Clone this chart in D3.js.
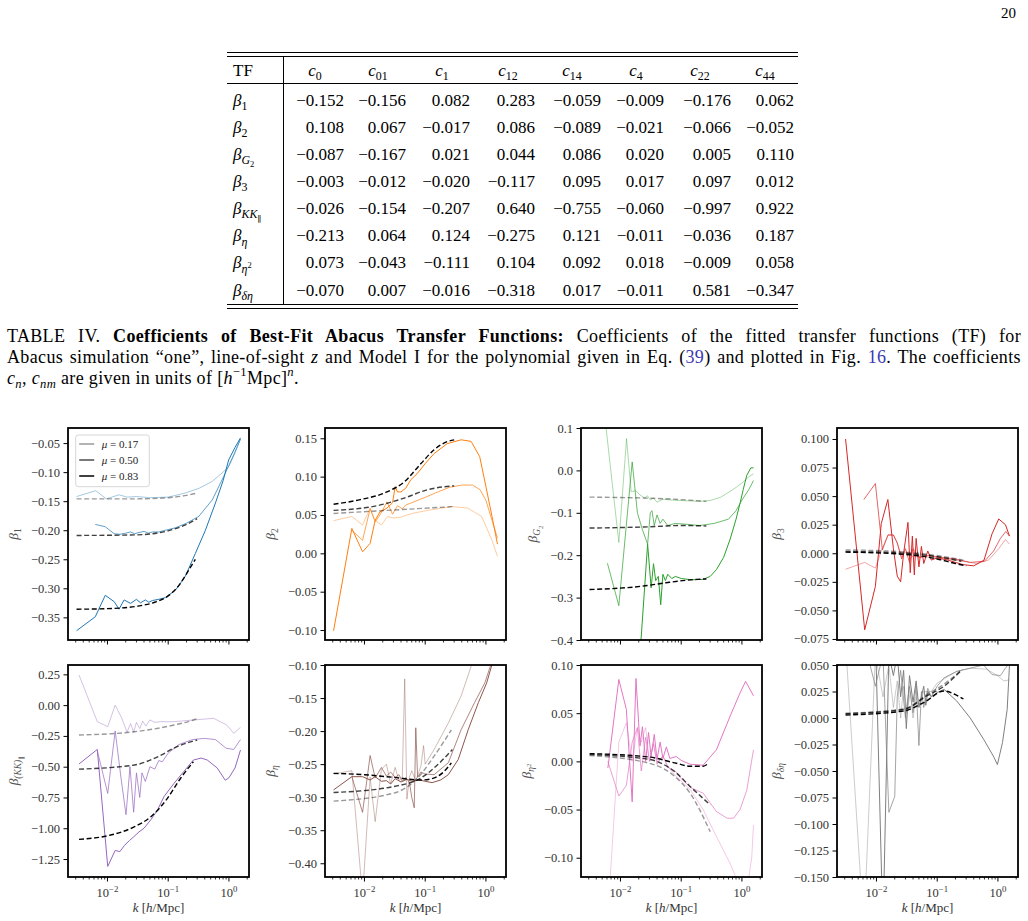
<!DOCTYPE html>
<html>
<head>
<meta charset="utf-8">
<script src="https://cdn.jsdelivr.net/npm/d3@7"></script>
<style>
  body { margin: 0; background: #fff; }
  svg text { font-family: "Liberation Serif", "Times New Roman", "DejaVu Serif", serif; }
</style>
</head>
<body>
<script>
// ---------- table ----------
var tableCols = ['0', '01', '1', '12', '14', '4', '22', '44'];
var tableVals = [
  [-0.152, -0.156,  0.082,  0.283, -0.059, -0.009, -0.176,  0.062],
  [ 0.108,  0.067, -0.017,  0.086, -0.089, -0.021, -0.066, -0.052],
  [-0.087, -0.167,  0.021,  0.044,  0.086,  0.020,  0.005,  0.110],
  [-0.003, -0.012, -0.020, -0.117,  0.095,  0.017,  0.097,  0.012],
  [-0.026, -0.154, -0.207,  0.640, -0.755, -0.060, -0.997,  0.922],
  [-0.213,  0.064,  0.124, -0.275,  0.121, -0.011, -0.036,  0.187],
  [ 0.073, -0.043, -0.111,  0.104,  0.092,  0.018, -0.009,  0.058],
  [-0.070,  0.007, -0.016, -0.318,  0.017, -0.011,  0.581, -0.347]
];
var tableRows = [
  [['β', '', 'i'], ['1', 'sub']],
  [['β', '', 'i'], ['2', 'sub']],
  [['β', '', 'i'], ['G', 'sub', 'i'], ['2', 'ss']],
  [['β', '', 'i'], ['3', 'sub']],
  [['β', '', 'i'], ['KK', 'sub', 'i'], ['∥', 'ss']],
  [['β', '', 'i'], ['η', 'sub', 'i']],
  [['β', '', 'i'], ['η', 'sub', 'i'], ['2', 'sp']],
  [['β', '', 'i'], ['δη', 'sub', 'i']]
];

// ---------- panel data: [k, value] ----------
var muLabels = ['0.17', '0.50', '0.83'];

var b1_m17 = [[0.0031,-0.142],[0.0064,-0.132],[0.0096,-0.146],[0.0155,-0.139],[0.021,-0.143],[0.03,-0.142],[0.05,-0.144],[0.1,-0.143],[0.19,-0.136],[0.32,-0.128],[0.53,-0.116],[0.8,-0.100],[1.0,-0.090],[1.25,-0.068],[1.55,-0.043]];
var b1_m50 = [[0.0063,-0.190],[0.0092,-0.194],[0.0129,-0.206],[0.016,-0.207],[0.020,-0.205],[0.024,-0.203],[0.028,-0.206],[0.033,-0.204],[0.04,-0.202],[0.047,-0.205],[0.055,-0.203],[0.07,-0.203],[0.09,-0.200],[0.13,-0.196],[0.2,-0.188],[0.32,-0.176],[0.53,-0.148],[0.87,-0.102],[1.2,-0.070],[1.55,-0.043]];
var b1_m83 = [[0.0031,-0.373],[0.0063,-0.349],[0.0092,-0.312],[0.0129,-0.323],[0.0155,-0.336],[0.0188,-0.320],[0.024,-0.326],[0.030,-0.319],[0.035,-0.325],[0.042,-0.320],[0.048,-0.324],[0.055,-0.321],[0.07,-0.319],[0.09,-0.316],[0.132,-0.303],[0.19,-0.280],[0.28,-0.240],[0.41,-0.200],[0.60,-0.153],[0.8,-0.115],[0.99,-0.079],[1.25,-0.058],[1.55,-0.041]];
var b1_f17 = [[0.0031,-0.146],[0.03,-0.146],[0.1,-0.144],[0.2,-0.140],[0.3,-0.136]];
var b1_f50 = [[0.0031,-0.209],[0.03,-0.208],[0.1,-0.201],[0.2,-0.190],[0.3,-0.180]];
var b1_f83 = [[0.0031,-0.336],[0.01,-0.335],[0.03,-0.331],[0.06,-0.324],[0.1,-0.313],[0.15,-0.295],[0.2,-0.275],[0.28,-0.250]];

var b2_m17 = [[0.0031,0.0426],[0.0062,0.048],[0.0093,0.037],[0.0124,0.059],[0.015,0.043],[0.019,0.037],[0.024,0.048],[0.03,0.046],[0.039,0.047],[0.05,0.050],[0.07,0.053],[0.11,0.056],[0.27,0.061],[0.5,0.059],[0.85,0.048],[1.26,0.017],[1.55,-0.004]];
var b2_m50 = [[0.0062,0.030],[0.0093,0.017],[0.0124,0.058],[0.015,0.041],[0.018,0.050],[0.0235,0.067],[0.029,0.051],[0.035,0.062],[0.042,0.058],[0.048,0.063],[0.06,0.066],[0.08,0.070],[0.1,0.073],[0.15,0.079],[0.25,0.086],[0.4,0.089],[0.6,0.089],[0.8,0.083],[1.0,0.069],[1.26,0.043],[1.55,0.020]];
var b2_m83 = [[0.0031,-0.101],[0.0062,0.0325],[0.0093,0.002],[0.0124,0.013],[0.015,0.043],[0.018,0.054],[0.0235,0.059],[0.029,0.066],[0.032,0.087],[0.035,0.080],[0.040,0.080],[0.048,0.085],[0.058,0.096],[0.074,0.104],[0.10,0.117],[0.14,0.130],[0.23,0.143],[0.39,0.148],[0.57,0.146],[0.79,0.126],[1.0,0.087],[1.26,0.048],[1.55,0.012]];
var b2_f17 = [[0.0031,0.052],[0.0235,0.056],[0.11,0.059],[0.3,0.061]];
var b2_f50 = [[0.0031,0.056],[0.016,0.062],[0.045,0.072],[0.11,0.083],[0.3,0.088]];
var b2_f83 = [[0.0031,0.064],[0.0085,0.070],[0.0235,0.080],[0.045,0.093],[0.085,0.117],[0.14,0.135],[0.22,0.145],[0.3,0.148]];

var b3_m17 = [[0.0031,0.45],[0.0094,-0.170],[0.0126,0.075],[0.015,-0.05],[0.018,-0.048],[0.021,-0.058],[0.025,-0.065],[0.028,-0.06],[0.031,-0.07],[0.035,-0.065],[0.04,-0.075],[0.05,-0.068],[0.07,-0.070],[0.1,-0.071],[0.2,-0.073],[0.3,-0.071],[0.45,-0.063],[0.7,-0.046],[1.0,-0.030],[1.3,-0.015],[1.55,-0.008]];
var b3_m50 = [[0.0061,-0.219],[0.0094,-0.319],[0.0156,0.020],[0.019,-0.10],[0.023,-0.14],[0.028,-0.174],[0.031,-0.10],[0.033,-0.095],[0.036,-0.13],[0.04,-0.105],[0.045,-0.125],[0.05,-0.115],[0.06,-0.13],[0.08,-0.125],[0.12,-0.127],[0.2,-0.130],[0.35,-0.125],[0.6,-0.115],[0.8,-0.095],[1.0,-0.070],[1.3,-0.045],[1.55,-0.024]];
var b3_m83 = [[0.0156,-0.70],[0.028,-0.174],[0.032,-0.277],[0.035,-0.22],[0.038,-0.26],[0.042,-0.25],[0.046,-0.317],[0.05,-0.245],[0.055,-0.26],[0.06,-0.245],[0.07,-0.255],[0.08,-0.250],[0.1,-0.255],[0.15,-0.258],[0.23,-0.257],[0.3,-0.250],[0.38,-0.234],[0.5,-0.205],[0.64,-0.162],[0.8,-0.115],[0.94,-0.075],[1.05,-0.045],[1.2,-0.012],[1.4,0.006],[1.55,0.006]];
var b3_f17 = [[0.0031,-0.063],[0.056,-0.067],[0.26,-0.073]];
var b3_f50 = [[0.0031,-0.136],[0.03,-0.133],[0.1,-0.130],[0.26,-0.131]];
var b3_f83 = [[0.0031,-0.281],[0.023,-0.273],[0.056,-0.265],[0.18,-0.257],[0.26,-0.256]];

var b4_m17 = [[0.0031,-0.014],[0.0064,-0.008],[0.0096,-0.013],[0.012,0.002],[0.0155,0.016],[0.019,0.016],[0.022,0.009],[0.026,-0.003],[0.03,0.001],[0.04,-0.003],[0.06,-0.003],[0.1,-0.004],[0.2,-0.006],[0.45,-0.009],[0.7,-0.006],[1.03,0.004],[1.33,0.012],[1.55,0.008]];
var b4_m50 = [[0.0062,0.047],[0.0096,0.061],[0.0125,0.003],[0.0155,0.016],[0.019,0.016],[0.022,0.009],[0.026,-0.005],[0.03,0.004],[0.035,-0.008],[0.04,0.004],[0.05,-0.004],[0.07,-0.002],[0.1,-0.003],[0.2,-0.005],[0.35,-0.008],[0.6,-0.007],[0.85,0.002],[1.1,0.013],[1.35,0.019],[1.55,0.015]];
var b4_m83 = [[0.0031,0.100],[0.0064,-0.067],[0.0096,-0.029],[0.012,0.026],[0.0154,0.047],[0.019,0.004],[0.022,-0.020],[0.025,-0.025],[0.028,0.0],[0.033,0.027],[0.036,-0.017],[0.039,0.015],[0.042,-0.019],[0.045,0.013],[0.05,-0.012],[0.055,0.006],[0.06,-0.009],[0.07,0.002],[0.08,-0.006],[0.1,-0.004],[0.15,-0.006],[0.2,-0.008],[0.27,-0.010],[0.4,-0.011],[0.59,-0.006],[0.8,0.017],[1.03,0.030],[1.33,0.025],[1.55,0.015]];
var b4_f17 = [[0.0031,0.003],[0.03,0.001],[0.1,-0.002],[0.27,-0.006]];
var b4_f50 = [[0.0031,0.0016],[0.03,0.0],[0.1,-0.003],[0.25,-0.007]];
var b4_f83 = [[0.0031,0.001],[0.03,-0.001],[0.1,-0.005],[0.2,-0.009],[0.3,-0.011]];

var b5_m17 = [[0.0034,0.245],[0.0068,-0.134],[0.0101,-0.175],[0.0134,0.0],[0.017,-0.10],[0.021,-0.22],[0.024,-0.15],[0.027,-0.22],[0.03,-0.14],[0.034,-0.19],[0.038,-0.13],[0.043,-0.17],[0.05,-0.12],[0.06,-0.14],[0.076,-0.134],[0.1,-0.135],[0.125,-0.134],[0.26,-0.121],[0.56,-0.107],[0.92,-0.161],[1.2,-0.229],[1.55,-0.180]];
var b5_m50 = [[0.0068,-0.37],[0.0101,-0.717],[0.0134,-0.21],[0.0168,-0.60],[0.0202,-0.89],[0.0235,-0.50],[0.027,-0.87],[0.030,-0.55],[0.034,-0.75],[0.037,-0.55],[0.042,-0.62],[0.05,-0.50],[0.06,-0.52],[0.07,-0.45],[0.08,-0.46],[0.1,-0.39],[0.15,-0.32],[0.25,-0.28],[0.4,-0.27],[0.6,-0.28],[0.9,-0.35],[1.2,-0.36],[1.55,-0.28]];
var b5_m83 = [[0.0034,-0.478],[0.0068,-0.36],[0.0101,-1.31],[0.0134,-1.18],[0.016,-1.19],[0.019,-1.14],[0.023,-1.10],[0.027,-1.07],[0.033,-1.03],[0.04,-1.0],[0.052,-0.93],[0.067,-0.85],[0.086,-0.74],[0.125,-0.635],[0.18,-0.54],[0.26,-0.446],[0.35,-0.43],[0.44,-0.446],[0.64,-0.51],[0.87,-0.61],[1.0,-0.59],[1.26,-0.51],[1.55,-0.364]];
var b5_f17 = [[0.0034,-0.243],[0.028,-0.216],[0.125,-0.161],[0.26,-0.121],[0.3,-0.110]];
var b5_f50 = [[0.0034,-0.52],[0.028,-0.486],[0.067,-0.42],[0.14,-0.337],[0.3,-0.283]];
var b5_f83 = [[0.0034,-1.09],[0.0103,-1.06],[0.028,-0.987],[0.052,-0.906],[0.097,-0.757],[0.16,-0.594],[0.26,-0.46]];

var b6_m17 = [[0.0031,-0.265],[0.0062,-0.26],[0.0093,-0.45],[0.0124,-0.27],[0.015,-0.337],[0.019,-0.258],[0.023,-0.25],[0.027,-0.28],[0.032,-0.255],[0.037,-0.275],[0.042,-0.27],[0.046,-0.121],[0.05,-0.303],[0.055,-0.27],[0.06,-0.26],[0.07,-0.275],[0.085,-0.253],[0.094,-0.222],[0.1,-0.25],[0.14,-0.228],[0.24,-0.188],[0.39,-0.147],[0.58,-0.10],[0.8,-0.06]];
var b6_m50 = [[0.0062,-0.269],[0.0093,-0.323],[0.0124,-0.237],[0.015,-0.271],[0.019,-0.255],[0.023,-0.268],[0.027,-0.262],[0.032,-0.27],[0.037,-0.266],[0.042,-0.276],[0.048,-0.27],[0.055,-0.278],[0.06,-0.30],[0.066,-0.316],[0.07,-0.195],[0.075,-0.27],[0.085,-0.262],[0.1,-0.265],[0.14,-0.266],[0.24,-0.248],[0.39,-0.198],[0.65,-0.157],[0.96,-0.127],[1.2,-0.100],[1.4,-0.08]];
var b6_m83 = [[0.0031,-0.289],[0.0062,-0.269],[0.0093,-0.269],[0.0124,-0.274],[0.015,-0.269],[0.019,-0.276],[0.023,-0.275],[0.027,-0.280],[0.032,-0.272],[0.04,-0.277],[0.05,-0.273],[0.06,-0.276],[0.08,-0.274],[0.1,-0.276],[0.13,-0.278],[0.18,-0.274],[0.24,-0.266],[0.35,-0.243],[0.51,-0.198],[0.75,-0.157],[1.03,-0.127],[1.25,-0.100],[1.45,-0.08]];
var b6_f17 = [[0.0031,-0.306],[0.03,-0.294],[0.075,-0.271],[0.14,-0.238],[0.27,-0.198]];
var b6_f50 = [[0.0031,-0.293],[0.03,-0.284],[0.085,-0.271],[0.16,-0.251],[0.28,-0.228]];
var b6_f83 = [[0.0031,-0.264],[0.01,-0.266],[0.03,-0.270],[0.085,-0.274],[0.13,-0.272],[0.2,-0.262],[0.27,-0.248]];

var b7_m17 = [[0.0062,-0.16],[0.0094,0.02],[0.0125,0.04],[0.0156,0.0],[0.019,0.035],[0.022,0.02],[0.026,0.035],[0.03,0.0],[0.035,0.02],[0.04,0.0],[0.05,0.005],[0.06,-0.005],[0.083,-0.016],[0.14,-0.029],[0.23,-0.050],[0.38,-0.078],[0.64,-0.106],[0.85,-0.125],[1.1,-0.135],[1.3,-0.12],[1.45,-0.10],[1.55,-0.066]];
var b7_m50 = [[0.0062,0.0],[0.0094,-0.036],[0.0125,-0.025],[0.0156,0.02],[0.019,0.035],[0.022,-0.01],[0.026,0.025],[0.03,0.0],[0.035,0.018],[0.04,-0.003],[0.05,0.006],[0.06,-0.006],[0.08,-0.010],[0.1,-0.018],[0.15,-0.028],[0.23,-0.033],[0.38,-0.052],[0.57,-0.059],[0.73,-0.059],[0.93,-0.050],[1.2,-0.030],[1.55,0.012]];
var b7_m83 = [[0.0062,-0.007],[0.0094,0.085],[0.0125,0.054],[0.0156,-0.042],[0.018,0.086],[0.021,0.016],[0.023,0.036],[0.026,0.0],[0.029,0.03],[0.032,0.005],[0.036,0.028],[0.04,0.002],[0.045,0.02],[0.05,0.003],[0.057,0.015],[0.065,0.003],[0.083,0.005],[0.1,0.001],[0.14,-0.003],[0.23,-0.004],[0.38,0.012],[0.64,0.047],[0.93,0.071],[1.15,0.083],[1.35,0.075],[1.55,0.068]];
var b7_f17 = [[0.0031,0.006],[0.03,-0.002],[0.083,-0.017],[0.14,-0.033],[0.3,-0.073]];
var b7_f50 = [[0.0031,0.007],[0.03,0.002],[0.083,-0.012],[0.14,-0.026],[0.3,-0.045]];
var b7_f83 = [[0.0031,0.008],[0.03,0.0045],[0.083,-0.002],[0.14,-0.005],[0.23,-0.005],[0.27,-0.003]];

var b8_m17 = [[0.0031,0.07],[0.0062,-0.20],[0.0096,0.06],[0.0128,0.02],[0.016,0.05],[0.019,0.01],[0.022,0.035],[0.025,0.0],[0.028,0.03],[0.032,0.005],[0.036,0.025],[0.04,0.0],[0.045,0.02],[0.05,0.01],[0.06,0.025],[0.08,0.025],[0.1,0.033],[0.21,0.044],[0.35,0.047],[0.66,0.046],[0.98,0.040],[1.25,0.035],[1.55,0.036]];
var b8_m50 = [[0.0031,0.05],[0.0064,0.07],[0.0096,0.03],[0.0128,0.06],[0.016,-0.089],[0.020,-0.074],[0.022,0.02],[0.025,0.045],[0.03,0.0],[0.035,0.03],[0.04,0.005],[0.045,0.03],[0.05,-0.026],[0.055,0.025],[0.06,0.01],[0.07,0.028],[0.08,0.02],[0.1,0.030],[0.13,0.038],[0.21,0.044],[0.35,0.047],[0.58,0.050],[0.8,0.041],[1.1,0.040],[1.33,0.047],[1.55,0.052]];
var b8_m83 = [[0.0064,0.06],[0.0096,0.08],[0.0128,-0.20],[0.016,0.06],[0.019,0.04],[0.022,0.06],[0.025,0.02],[0.028,0.045],[0.031,-0.01],[0.035,0.04],[0.04,0.015],[0.045,0.035],[0.05,0.01],[0.06,0.03],[0.065,0.012],[0.07,0.025],[0.08,0.02],[0.1,0.024],[0.13,0.027],[0.21,0.016],[0.35,0.0],[0.58,-0.020],[0.86,-0.037],[0.98,-0.044],[1.19,-0.023],[1.42,0.008],[1.55,0.050]];
var b8_f17 = [[0.0031,0.0045],[0.028,0.0085],[0.068,0.022],[0.13,0.032],[0.26,0.046]];
var b8_f50 = [[0.0031,0.004],[0.028,0.008],[0.068,0.021],[0.13,0.030],[0.24,0.044]];
var b8_f83 = [[0.0031,0.0028],[0.028,0.0066],[0.06,0.0145],[0.13,0.0255],[0.2,0.022],[0.27,0.018]];

// ticks
var kMajor = [0.01, 0.1, 1];
var kMajorExp = ['−2', '−1', '0'];
var kMinor = [0.003,0.004,0.005,0.006,0.007,0.008,0.009,0.02,0.03,0.04,0.05,0.06,0.07,0.08,0.09,0.2,0.3,0.4,0.5,0.6,0.7,0.8,0.9,2];
var yt1 = [-0.35,-0.30,-0.25,-0.20,-0.15,-0.10,-0.05];
var yt2 = [-0.10,-0.05,0.00,0.05,0.10,0.15];
var yt3 = [-0.4,-0.3,-0.2,-0.1,0.0,0.1];
var yt4 = [-0.075,-0.050,-0.025,0.000,0.025,0.050,0.075,0.100];
var yt5 = [-1.25,-1.00,-0.75,-0.50,-0.25,0.00,0.25];
var yt6 = [-0.40,-0.35,-0.30,-0.25,-0.20,-0.15,-0.10];
var yt7 = [-0.10,-0.05,0.00,0.05,0.10];
var yt8 = [-0.150,-0.125,-0.100,-0.075,-0.050,-0.025,0.000,0.025,0.050];

var panels = [
  {col: 0, row: 0, color: '#1f77b4', ser: [b1_m17, b1_m50, b1_m83], fit: [b1_f17, b1_f50, b1_f83], ydom: [-0.389, -0.024], ticks: yt1, fmt: '.2f',
   ylab: [['β', '', 'i'], ['1', 'sub']], legend: true},
  {col: 1, row: 0, color: '#ff7f0e', ser: [b2_m17, b2_m50, b2_m83], fit: [b2_f17, b2_f50, b2_f83], ydom: [-0.113, 0.1634], ticks: yt2, fmt: '.2f',
   ylab: [['β', '', 'i'], ['2', 'sub']]},
  {col: 2, row: 0, color: '#2ca02c', ser: [b3_m17, b3_m50, b3_m83], fit: [b3_f17, b3_f50, b3_f83], ydom: [-0.4, 0.1], ticks: yt3, fmt: '.1f',
   ylab: [['β', '', 'i'], ['G', 'sub', 'i'], ['2', 'ss']]},
  {col: 3, row: 0, color: '#d62728', ser: [b4_m17, b4_m50, b4_m83], fit: [b4_f17, b4_f50, b4_f83], ydom: [-0.0759, 0.1096], ticks: yt4, fmt: '.3f',
   ylab: [['β', '', 'i'], ['3', 'sub']]},
  {col: 0, row: 1, color: '#9467bd', ser: [b5_m17, b5_m50, b5_m83], fit: [b5_f17, b5_f50, b5_f83], ydom: [-1.396, 0.326], ticks: yt5, fmt: '.2f',
   ylab: [['β', '', 'i'], ['(KK)', 'sub', 'i'], ['∥', 'ss']]},
  {col: 1, row: 1, color: '#8c564b', ser: [b6_m17, b6_m50, b6_m83], fit: [b6_f17, b6_f50, b6_f83], ydom: [-0.4208, -0.10], ticks: yt6, fmt: '.2f',
   ylab: [['β', '', 'i'], ['η', 'sub', 'i']]},
  {col: 2, row: 1, color: '#e377c2', ser: [b7_m17, b7_m50, b7_m83], fit: [b7_f17, b7_f50, b7_f83], ydom: [-0.12, 0.10], ticks: yt7, fmt: '.2f',
   ylab: [['β', '', 'i'], ['η', 'sub', 'i'], ['2', 'sp']]},
  {col: 3, row: 1, color: '#7f7f7f', ser: [b8_m17, b8_m50, b8_m83], fit: [b8_f17, b8_f50, b8_f83], ydom: [-0.15, 0.05], ticks: yt8, fmt: '.3f',
   ylab: [['β', '', 'i'], ['δη', 'sub', 'i']]}
];

var serAlpha = [0.4, 0.7, 1],
  fitAlpha = [0.4, 0.75, 1];

var FONT = '"Liberation Serif", "Times New Roman", "DejaVu Serif", serif';

var svg = d3.select('body').append('svg')
  .attr('width', 1028)
  .attr('height', 921)
  .attr('font-family', FONT);

// text with sub/superscripts, italics etc
var POS = {'': [0, 1], sub: [0.25, 0.7], sup: [-0.4, 0.7], ss: [0.45, 0.5], sp: [0.0, 0.5]};
function rich(t, parts, fs) {
  var off = 0;
  parts.forEach(function(p) {
    var pos = POS[p[1] || ''], f = p[2] || '';
    var shift = pos[0] * fs;
    var ts = t.append('tspan').text(p[0])
      .attr('dy', (shift - off).toFixed(2))
      .attr('font-size', (fs * pos[1]).toFixed(2));
    off = shift;
    if (f.indexOf('i') >= 0) ts.attr('font-style', 'italic');
    if (f.indexOf('b') >= 0) ts.attr('font-weight', 'bold');
    if (f.indexOf('u') >= 0) ts.attr('fill', '#3a3ab0');
  });
  return t;
}
// stretch the spaces of a caption line to a given width (TeX-like justification)
function justify(t, w) {
  var n = t.text().split(' ').length - 1;
  var L = t.node().getComputedTextLength();
  t.style('word-spacing', ((w - L) / n).toFixed(2) + 'px');
}

// page number
svg.append('text').attr('x', 1016).attr('y', 18).attr('text-anchor', 'end')
  .attr('font-size', 15).text('20');

// ---------- table ----------
var tL = 227, tR = 798, fsT = 17;
function hrule(yy) {
  svg.append('line').attr('x1', tL).attr('x2', tR).attr('y1', yy).attr('y2', yy)
    .attr('stroke', '#000').attr('stroke-width', 1);
}
hrule(52.5); hrule(56.5); hrule(83.5); hrule(304.5); hrule(308.5);
svg.append('line').attr('x1', 283.5).attr('x2', 283.5).attr('y1', 56.5).attr('y2', 304.5)
  .attr('stroke', '#000').attr('stroke-width', 1);

var colHead = [315, 378, 442, 508, 572, 636, 700, 765];
var colRight = [344, 406, 470, 535, 601, 664, 731, 794];
var rowBase = d3.range(8).map(function(i) { return 105.5 + i * 27.15; });
var fmt3 = d3.format('.3f');

svg.append('text').attr('x', 233).attr('y', 76).attr('font-size', fsT).text('TF');
tableCols.forEach(function(c, j) {
  rich(svg.append('text').attr('x', colHead[j]).attr('y', 76).attr('text-anchor', 'middle'),
    [['c', '', 'i'], [c, 'sub']], fsT);
});
tableRows.forEach(function(r, i) {
  rich(svg.append('text').attr('x', 233).attr('y', rowBase[i]), r, fsT);
  tableVals[i].forEach(function(v, j) {
    svg.append('text').attr('x', colRight[j]).attr('y', rowBase[i])
      .attr('text-anchor', 'end').attr('font-size', fsT).text(fmt3(v));
  });
});

// ---------- caption ----------
var fsC = 18, lsC = '0.35px';
var cap1 = rich(svg.append('text').attr('x', 7).attr('y', 341.5).style('letter-spacing', lsC), [
  ['TABLE IV. '],
  ['Coefficients of Best-Fit Abacus Transfer Functions:', '', 'b'],
  [' Coefficients of the fitted transfer functions (TF) for']
], fsC);
justify(cap1, 1014);
var cap2 = rich(svg.append('text').attr('x', 7).attr('y', 362.5).style('letter-spacing', lsC), [
  ['Abacus simulation “one”, line-of-sight '], ['z', '', 'i'],
  [' and Model I for the polynomial given in Eq. ('], ['39', '', 'u'],
  [') and plotted in Fig. '], ['16', '', 'u'], ['. The coefficients']
], fsC);
justify(cap2, 1014);
rich(svg.append('text').attr('x', 7).attr('y', 383.5).style('letter-spacing', lsC), [
  ['c', '', 'i'], ['n', 'sub', 'i'], [', '], ['c', '', 'i'], ['nm', 'sub', 'i'],
  [' are given in units of  ['], ['h', '', 'i'], ['−1', 'sup'], ['Mpc]'], ['n', 'sup', 'i'], ['.']
], fsC);

// ---------- panels ----------
var colX = [68, 325, 581, 837],
  rowTop = [428, 665],
  pw = 181, ph = 212;

var x = d3.scaleLog().domain([0.00224, 2.14]).range([0, pw]);

panels.forEach(function(p, i) {
  var g = svg.append('g')
    .attr('transform', 'translate(' + colX[p.col] + ',' + rowTop[p.row] + ')');
  var y = d3.scaleLinear().domain(p.ydom).range([ph, 0]);

  g.append('clipPath').attr('id', 'clip' + i)
    .append('rect').attr('width', pw).attr('height', ph);
  var plot = g.append('g').attr('clip-path', 'url(#clip' + i + ')');

  var dataLine = d3.line()
    .x(function(d) { return x(d[0]); })
    .y(function(d) { return y(d[1]); });
  var fitLine = d3.line()
    .x(function(d) { return x(d[0]); })
    .y(function(d) { return y(d[1]); })
    .curve(d3.curveMonotoneX);

  p.ser.forEach(function(s, j) {
    plot.append('path').datum(s)
      .attr('d', dataLine)
      .attr('fill', 'none')
      .attr('stroke', p.color)
      .attr('stroke-opacity', serAlpha[j])
      .attr('stroke-width', 1)
      .attr('stroke-linejoin', 'round');
  });
  p.fit.forEach(function(s, j) {
    plot.append('path').datum(s)
      .attr('d', fitLine)
      .attr('fill', 'none')
      .attr('stroke', '#000')
      .attr('stroke-opacity', fitAlpha[j])
      .attr('stroke-width', 1.4)
      .attr('stroke-dasharray', '5,2.6');
  });

  // y axis
  var yg = g.append('g')
    .call(d3.axisLeft(y).tickValues(p.ticks).tickFormat(d3.format(p.fmt)).tickSize(4.5).tickPadding(3.5));
  yg.attr('font-family', FONT).attr('font-size', 12.5);
  yg.select('.domain').remove();
  yg.selectAll('line').attr('stroke', '#000').attr('stroke-width', 1);
  yg.selectAll('text').attr('fill', '#333');
  var maxW = 0;
  yg.selectAll('text').each(function() { maxW = Math.max(maxW, this.getBBox().width); });

  // x ticks
  kMajor.forEach(function(k) {
    g.append('line').attr('x1', x(k)).attr('x2', x(k)).attr('y1', ph).attr('y2', ph + 4.5)
      .attr('stroke', '#000').attr('stroke-width', 1);
  });
  kMinor.forEach(function(k) {
    g.append('line').attr('x1', x(k)).attr('x2', x(k)).attr('y1', ph).attr('y2', ph + 2.5)
      .attr('stroke', '#000').attr('stroke-width', 0.8);
  });
  if (p.row === 1) {
    kMajor.forEach(function(k, j) {
      rich(g.append('text').attr('x', x(k)).attr('y', ph + 20).attr('text-anchor', 'middle').attr('fill', '#333'),
        [['10'], [kMajorExp[j], 'sup']], 12.5);
    });
    rich(g.append('text').attr('x', pw / 2).attr('y', ph + 34.5).attr('text-anchor', 'middle').attr('fill', '#333'),
      [['k', '', 'i'], [' ['], ['h', '', 'i'], ['/Mpc]']], 13);
  }

  // y label
  var lx = -4.5 - 3.5 - maxW - 13;
  rich(g.append('text')
    .attr('transform', 'translate(' + lx + ',' + (ph / 2) + ') rotate(-90)')
    .attr('text-anchor', 'middle').attr('dy', '0.35em').attr('fill', '#555'),
    p.ylab, 13.5);

  // spines
  g.append('rect').attr('width', pw).attr('height', ph)
    .attr('fill', 'none').attr('stroke', '#000').attr('stroke-width', 1.8);

  if (p.legend) {
    var lg = g.append('g').attr('transform', 'translate(7.7,7)');
    lg.append('rect').attr('width', 73.6).attr('height', 51.7).attr('rx', 2.5)
      .attr('fill', '#fff').attr('fill-opacity', 0.8).attr('stroke', '#ccc').attr('stroke-width', 0.8);
    muLabels.forEach(function(m, j) {
      var yy = 9 + j * 16;
      lg.append('line').attr('x1', 3.5).attr('x2', 18.5).attr('y1', yy).attr('y2', yy)
        .attr('stroke', '#000').attr('stroke-opacity', serAlpha[j]).attr('stroke-width', 1.5);
      rich(lg.append('text').attr('x', 26).attr('y', yy + 3.8).attr('fill', '#222'),
        [['μ', '', 'i'], [' = ' + m]], 11);
    });
  }
});
</script>
</body>
</html>
